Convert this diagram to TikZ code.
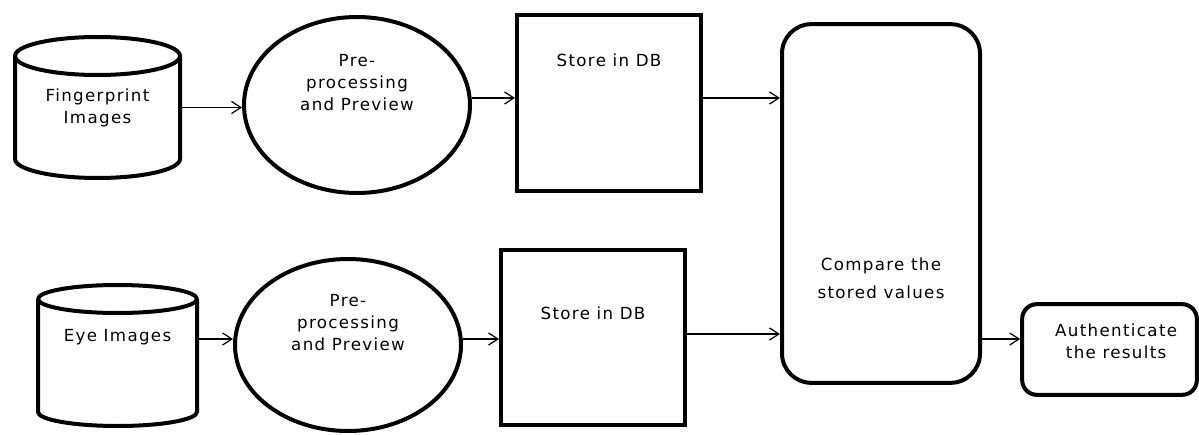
\documentclass[tikz,border=0pt]{standalone}
\usepackage{fontspec}
\setmainfont[LetterSpace=8]{DejaVu Sans}
\usetikzlibrary{shapes.geometric,arrows.meta}

\begin{document}
\begin{tikzpicture}[x=0.75pt,y=-0.75pt,
    font=\fontsize{12.5}{16.5}\selectfont,
    flow/.style={draw, line width=3pt, inner sep=0pt},
    dbline/.style={line width=3pt, line join=round},
    every label/.style={draw=none, align=center, inner sep=0pt}]

        \useasboundingbox (0,0) rectangle (1199,435);

        \begin{scope}[every node/.style={flow}]
          \node[rectangle, draw=none, minimum width=124pt, minimum height=106pt,
                label={center:{Fingerprint\\Images}}] (db1) at (97.5,107.5) {};
          \node[ellipse, minimum width=169.5pt, minimum height=132pt,
                label={[yshift=17pt]center:{Pre-\\processing\\and Preview}}] (pre1) at (357,105) {};
          \node[rectangle, minimum width=138pt, minimum height=132pt,
                label={[yshift=32pt]center:{Store in DB}}] (st1) at (609,103) {};

          \node[rectangle, draw=none, minimum width=119pt, minimum height=106pt,
                label={[yshift=14pt]center:{Eye Images}}] (db2) at (117.5,355.5) {};
          \node[ellipse, minimum width=169.5pt, minimum height=129pt,
                label={[yshift=17pt]center:{Pre-\\processing\\and Preview}}] (pre2) at (348,345) {};
          \node[rectangle, minimum width=138pt, minimum height=131pt,
                label={[yshift=18pt]center:{Store in DB}}] (st2) at (593,337.5) {};

          \node[rectangle, rounded corners=22pt, minimum width=148.5pt, minimum height=269pt,
                label={[yshift=-56pt]center:{Compare the\\[5pt]stored values}}] (cmp) at (881,203.5) {};
          \node[rectangle, rounded corners=11pt, minimum width=131pt, minimum height=68pt,
                label={[yshift=6pt, xshift=5pt]center:{Authenticate\\the results}}] (auth) at (1109.5,349.5) {};
        \end{scope}

        % the two image stores as cylinders
        \draw[dbline] (15,56) -- (15,159)
          .. controls (15,169.5) and (52,178) .. (97.5,178)
          .. controls (143,178) and (180,169.5) .. (180,159) -- (180,56);
        \draw[dbline] (97.5,56) ellipse [x radius=82.5, y radius=19];

        \draw[dbline] (38,299) -- (38,412)
          .. controls (38,419.7) and (73.6,426) .. (117.5,426)
          .. controls (161.4,426) and (197,419.7) .. (197,412) -- (197,299);
        \draw[dbline] (117.5,299) ellipse [x radius=79.5, y radius=14];

        % heights of the connectors
        \coordinate (row1) at (0,98);
        \coordinate (row2) at (0,339);
        \coordinate (row3) at (0,334);

        \begin{scope}[every edge/.style={draw, line width=0.9pt, -{Straight Barb[length=7pt,width=9pt]}}]
          \path (db1.east) edge (db1.east -| pre1.west);
          \path (pre1.east |- row1) edge (st1.west |- row1);
          \path (st1.east |- row1) edge (cmp.west |- row1);

          \path (db2.east |- row2) edge (pre2.west |- row2);
          \path (pre2.east |- row2) edge (st2.west |- row2);
          \path (st2.east |- row3) edge (cmp.west |- row3);

          \path (cmp.east |- row2) edge (auth.west |- row2);
        \end{scope}

      \end{tikzpicture}
\end{document}
